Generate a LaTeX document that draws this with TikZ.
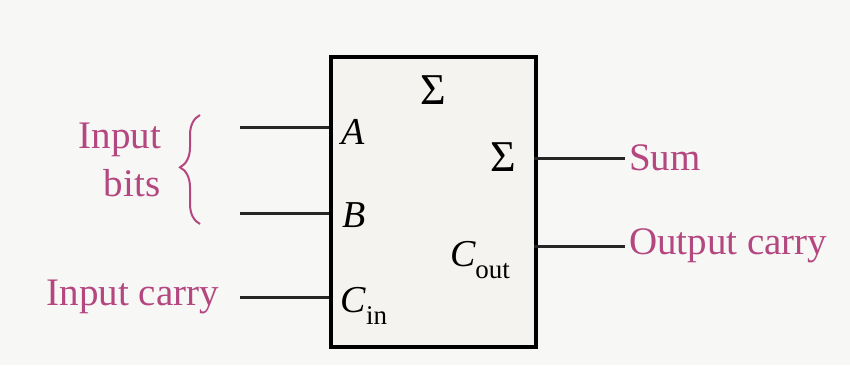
\documentclass[tikz,border=0pt]{standalone}
\usepackage{fontspec}
\setmainfont{Liberation Serif}
\usetikzlibrary{decorations.pathreplacing}
\definecolor{bg}{HTML}{F7F7F6}
\definecolor{boxfill}{HTML}{F4F3EF}
\definecolor{mag}{HTML}{B4477F}
\tikzset{
  lbl/.style={text=mag, font=\fontsize{39}{42}\selectfont, inner sep=0pt},
  pin/.style={font=\fontsize{38}{40}\selectfont, inner sep=0pt},
  sigpin/.style={font=\fontsize{44}{46}\selectfont, inner sep=0pt},
  wire/.style={line width=3pt, black!85},
}
\newcommand{\subin}[1]{\raisebox{-0.32em}{\fontsize{27}{28}\selectfont #1}}
\begin{document}
\begin{tikzpicture}[x=1pt,y=-1pt]
\fill[bg] (0,0) rectangle (850,365);
\useasboundingbox (0,0) rectangle (850,365);
% block
\node[draw, line width=4pt, fill=boxfill, minimum width=205pt, minimum height=290pt, inner sep=0pt, anchor=north west] (blk) at (329,55) {};
% pins inside
\node[sigpin] (sig) at (433,90) {Σ};
\node[pin] (pa) at (353,132) {\itshape A};
\node[pin] (pb) at (354,215) {\itshape B};
\node[pin] (pcin) at (364,306) {{\itshape C}\subin{in}};
\node[sigpin] (psum) at (503,157) {Σ};
\node[pin] (pcout) at (480,260) {{\itshape C}\subin{out}};
% wire endpoints on block
\coordinate (ea) at (329,127);
\coordinate (eb) at (329,213);
\coordinate (ec) at (329,297);
\coordinate (es) at (534,158);
\coordinate (eo) at (534,246);
% labels
\node[lbl, anchor=east] (lcarry) at (219,297) {Input carry};
\node[lbl] (linput) at (120,140) {Input};
\node[lbl] (lbits) at (132,183) {bits};
\node[lbl, anchor=west] (lsum) at (629,158) {Sum};
\node[lbl, anchor=west] (lout) at (629,246) {Output carry};
\coordinate (ia) at (240,127);
\coordinate (ib) at (240,213);
\coordinate (ic) at (240,297);
\draw[wire] (ia) -- (ea);
\draw[wire] (ib) -- (eb);
\draw[wire] (ic) -- (ec);
\draw[wire] (es) -- ([xshift=-4pt]lsum.west);
\draw[wire] (eo) -- ([xshift=-4pt]lout.west);
% brace
\coordinate (bbot) at (200,224);
\coordinate (btop) at (200,115);
\draw[mag, line width=2pt, decoration={brace, amplitude=20pt, aspect=0.52}, decorate] (bbot) -- (btop);
\end{tikzpicture}
\end{document}
